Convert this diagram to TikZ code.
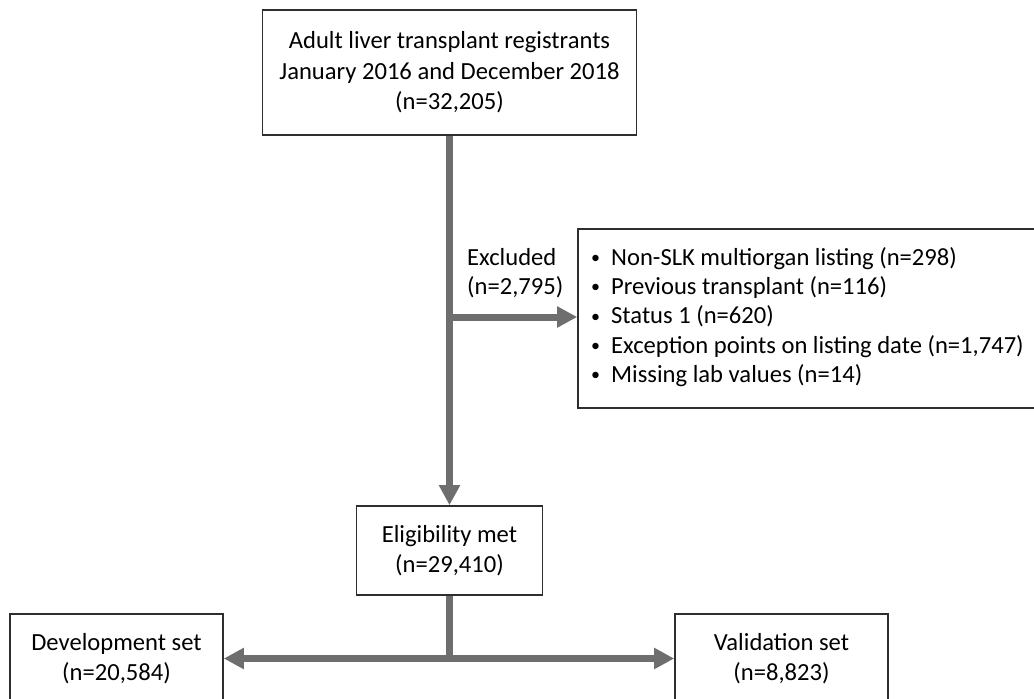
\documentclass[tikz,border=0pt]{standalone}
\usepackage{fontspec}
\setmainfont{Carlito}
\usetikzlibrary{arrows.meta}
\definecolor{linegray}{HTML}{6E6E6E}
\definecolor{boxline}{HTML}{2E2E2E}
\newcommand{\bul}{\makebox[21pt][l]{\hspace{1pt}\raisebox{1.8pt}{\fontsize{18}{18}\selectfont •}}}
\tikzset{
  box/.style={draw=boxline, line width=1.6pt, fill=white, align=center, inner sep=0pt,
    font=\fontsize{24.6}{30.5}\selectfont},
  conn/.style={draw=linegray, line width=7pt},
  arr/.style={conn, -{Triangle[width=20pt,length=20pt]}},
  lbl/.style={align=left, inner sep=0pt, font=\fontsize{24.6}{29.3}\selectfont}
}
\begin{document}
\begin{tikzpicture}[x=1pt,y=-1pt]
\useasboundingbox (0,0) rectangle (1034,699);
\node[box, minimum width=374pt, minimum height=125pt] (top) at (449.5,72.5)
  {Adult liver transplant registrants\\January 2016 and December 2018\\(n=32,205)};
\node[box, minimum width=462pt, minimum height=179pt] (list) at (809,318.5) {};
\node[lbl, anchor=west] (items) at (590,317)
  {\bul Non-SLK multiorgan listing (n=298)\\
   \bul Previous transplant (n=116)\\
   \bul Status 1 (n=620)\\
   \bul Exception points on listing date (n=1,747)\\
   \bul Missing lab values (n=14)};
\node[lbl, anchor=west] (excl) at (467,273.5) {Excluded\\(n=2,795)};
\node[box, minimum width=186pt, minimum height=89pt] (elig) at (449.5,550.5)
  {Eligibility met\\(n=29,410)};
\node[box, minimum width=213pt, minimum height=89pt] (dev) at (116.5,658.5)
  {Development set\\(n=20,584)};
\node[box, minimum width=213pt, minimum height=89pt] (val) at (781.5,658.5)
  {Validation set\\(n=8,823)};
\coordinate (branch) at (top.south |- items.west);
\coordinate (split) at (elig.south |- dev.east);
\draw[arr] (top.south) -- (elig.north);
\draw[arr] (branch) -- (list.west |- branch);
\draw[conn] (elig.south) -- (split);
\draw[arr] (split) -- (dev.east);
\draw[arr] (split) -- (val.west);
\end{tikzpicture}
\end{document}
